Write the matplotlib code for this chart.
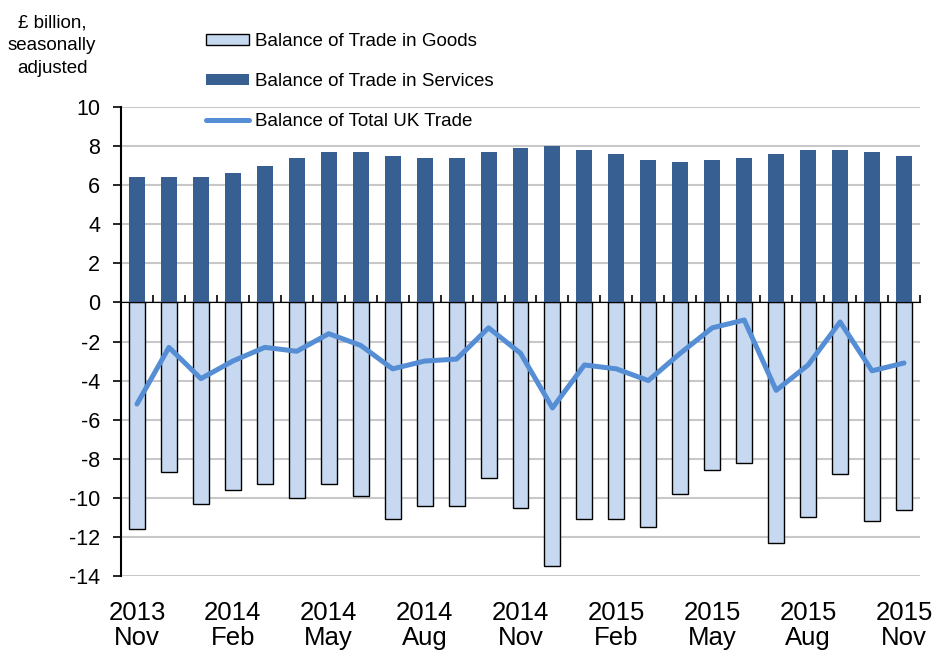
import matplotlib
matplotlib.use("Agg")
import matplotlib.pyplot as plt
import numpy as np

plt.rcParams['font.family'] = ['Liberation Sans', 'DejaVu Sans']

months = ["Nov", "Dec", "Jan", "Feb", "Mar", "Apr", "May", "Jun", "Jul", "Aug", "Sep", "Oct",
          "Nov", "Dec", "Jan", "Feb", "Mar", "Apr", "May", "Jun", "Jul", "Aug", "Sep", "Oct", "Nov"]
years = [2013, 2013, 2014, 2014, 2014, 2014, 2014, 2014, 2014, 2014, 2014, 2014,
         2014, 2014, 2015, 2015, 2015, 2015, 2015, 2015, 2015, 2015, 2015, 2015, 2015]

goods = [-11.6, -8.7, -10.3, -9.6, -9.3, -10.0, -9.3, -9.9, -11.1, -10.4, -10.4, -9.0,
         -10.5, -13.5, -11.1, -11.1, -11.5, -9.8, -8.6, -8.2, -12.3, -11.0, -8.8, -11.2, -10.6]
services = [6.4, 6.4, 6.4, 6.6, 7.0, 7.4, 7.7, 7.7, 7.5, 7.4, 7.4, 7.7,
            7.9, 8.0, 7.8, 7.6, 7.3, 7.2, 7.3, 7.4, 7.6, 7.8, 7.8, 7.7, 7.5]
total = [-5.2, -2.3, -3.9, -3.0, -2.3, -2.5, -1.6, -2.2, -3.4, -3.0, -2.9, -1.3,
         -2.6, -5.4, -3.2, -3.4, -4.0, -2.6, -1.3, -0.9, -4.5, -3.2, -1.0, -3.5, -3.1]

yticks = list(range(-14, 11, 2))

fig = plt.figure(figsize=(9.34, 6.56), dpi=100)
ax = fig.add_axes([121/934, 1 - 576/656, (920 - 121)/934, (576 - 107)/656])

x = np.arange(len(goods))
b_goods = ax.bar(x, goods, width=0.5, color='#C6D9F1', edgecolor='black', linewidth=1.0,
                 zorder=3, label='Balance of Trade in Goods')
b_serv = ax.bar(x, services, width=0.5, color='#375F91', edgecolor='none',
                zorder=3, label='Balance of Trade in Services')
l_tot, = ax.plot(x, total, color='#558ED5', linewidth=3.6, zorder=4,
                 solid_joinstyle='round', solid_capstyle='round',
                 label='Balance of Total UK Trade')

ax.set_xlim(-0.5, len(goods) - 0.5)
ax.set_ylim(-14, 10)
ax.set_yticks(yticks)
ax.set_yticklabels([str(v) for v in yticks], fontsize=15.5)
ax.yaxis.grid(True, color='#C8C8C8', linewidth=1.5, zorder=0)
ax.set_axisbelow(True)
ax.tick_params(axis='y', direction='out', length=6, width=1.2, pad=9, colors='black')

for s in ['top', 'right', 'bottom']:
    ax.spines[s].set_visible(False)
ax.spines['left'].set_linewidth(1.5)

lab_idx = list(range(0, len(goods), 3))
ax.set_xticks(lab_idx)
ax.set_xticklabels([f"{years[i]}\n{months[i]}" for i in lab_idx], fontsize=18.5, linespacing=1.05)
ax.tick_params(axis='x', length=0, pad=18)

# zero axis with boundary ticks
sec = ax.secondary_xaxis(14 / 24)
sec.spines['bottom'].set_linewidth(1.5)
sec.set_xticks([])
sec.set_xticks(np.arange(-0.5, len(goods), 1.0), minor=True)
sec.tick_params(which='minor', direction='out', length=5, width=1.2)
sec.tick_params(which='major', length=0, labelbottom=False)
sec.set_zorder(5)

fig.legend(handles=[b_goods, b_serv, l_tot], loc='upper left',
           bbox_to_anchor=(206/934, 1 - 33/656), frameon=False, fontsize=13.5,
           handlelength=2.3, handleheight=0.5, handletextpad=0.3, labelspacing=1.22,
           borderpad=0, borderaxespad=0)

fig.text(52/934, 1 - 14/656, "£ billion,\nseasonally\nadjusted", ha='center', va='top',
         fontsize=13.5, linespacing=1.45)

fig.savefig("out.png", dpi=100)
